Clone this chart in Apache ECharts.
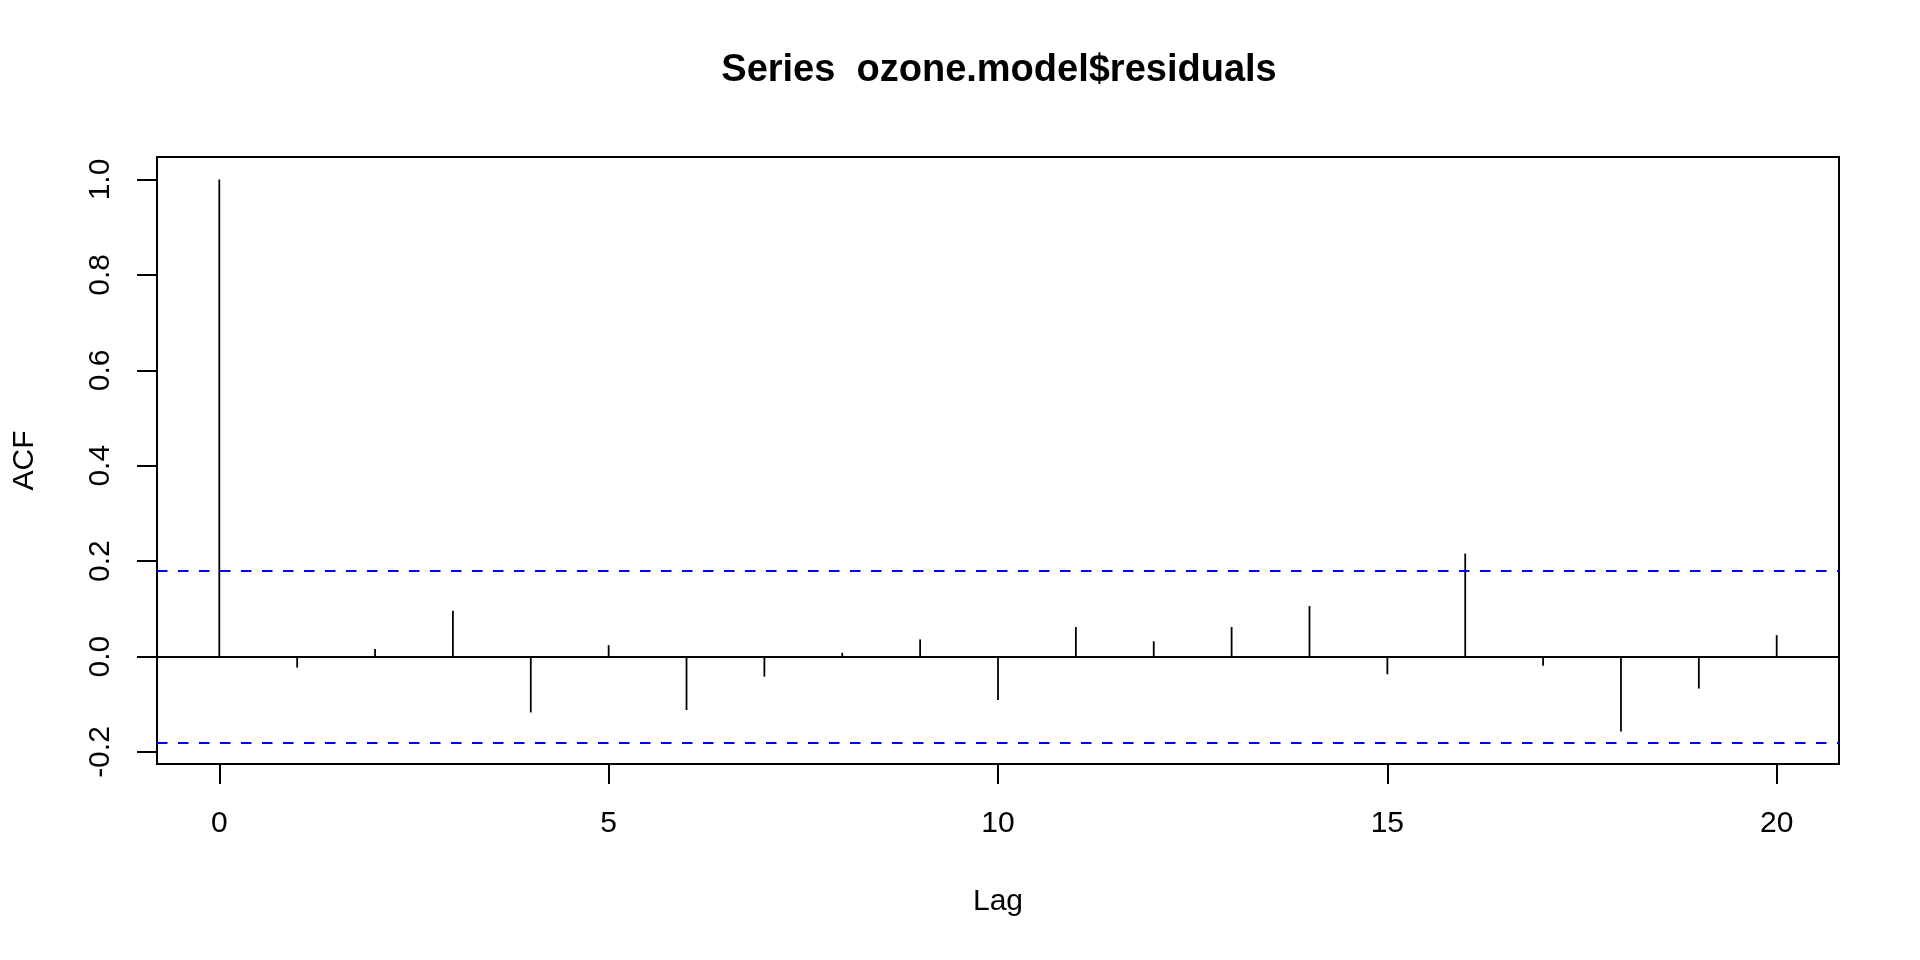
<!DOCTYPE html>
<html>
<head>
<meta charset="utf-8">
<script src="https://cdn.jsdelivr.net/npm/echarts@6/dist/echarts.min.js"></script>
<style>
  html, body { margin: 0; padding: 0; background: #ffffff; }
  #chart { width: 1920px; height: 960px; }
</style>
</head>
<body>
<div id="chart"></div>
<script>
// ---- data ----
const lags = [0, 1, 2, 3, 4, 5, 6, 7, 8, 9, 10, 11, 12, 13, 14, 15, 16, 17, 18, 19, 20];
const acfValues = [1.000, -0.023, 0.016, 0.096, -0.117, 0.024, -0.112, -0.042, 0.008, 0.036,
                   -0.091, 0.062, 0.032, 0.062, 0.106, -0.037, 0.216, -0.019, -0.157, -0.067, 0.045];
const confLimit = 0.178;
const xTicks = [0, 5, 10, 15, 20];
const yTicks = [-0.2, 0.0, 0.2, 0.4, 0.6, 0.8, 1.0];
const xLimits = [-0.8, 20.8];
const yLimits = [-0.2251, 1.0471];
const titleText = 'Series  ozone.model$residuals';
const xName = 'Lag';
const yName = 'ACF';

const FONT = '"Liberation Sans", Arial, Helvetica, sans-serif';

const chart = echarts.init(document.getElementById('chart'), null, { renderer: 'canvas' });

const spikeData = lags.map((l, i) => [l, acfValues[i]]);

const option = {
  backgroundColor: '#ffffff',
  animation: false,
  title: {
    text: titleText,
    left: 994,
    top: 47,
    textAlign: 'center',
    textStyle: { fontFamily: FONT, fontSize: 38, fontWeight: 'bold', color: '#000' }
  },
  grid: {
    left: 157, right: 81, top: 157, bottom: 196,
    show: true, borderColor: '#000', borderWidth: 2, backgroundColor: 'transparent',
    containLabel: false
  },
  xAxis: {
    type: 'value',
    min: xLimits[0], max: xLimits[1],
    name: xName,
    nameLocation: 'middle',
    nameGap: 123,
    nameTextStyle: { fontFamily: FONT, fontSize: 30, color: '#000' },
    axisLine: { show: false, onZero: false },
    splitLine: { show: false },
    axisTick: { show: true, inside: false, length: 20, customValues: xTicks,
                lineStyle: { color: '#000', width: 2 } },
    axisLabel: { show: true, customValues: xTicks, margin: 45,
                 fontFamily: FONT, fontSize: 30, color: '#000',
                 formatter: v => String(v) }
  },
  yAxis: {
    type: 'value',
    min: yLimits[0], max: yLimits[1],
    name: yName,
    nameLocation: 'middle',
    nameRotate: 90,
    nameGap: 117,
    nameTextStyle: { fontFamily: FONT, fontSize: 30, color: '#000' },
    axisLine: { show: false, onZero: false },
    splitLine: { show: false },
    axisTick: { show: true, inside: false, length: 20, customValues: yTicks,
                lineStyle: { color: '#000', width: 2 } },
    axisLabel: { show: true, customValues: yTicks, rotate: 90, margin: 41,
                 fontFamily: FONT, fontSize: 30, color: '#000',
                 formatter: v => Number(v).toFixed(1) }
  },
  series: [
    {
      type: 'custom',
      name: 'ACF',
      data: spikeData,
      clip: true,
      renderItem: function (params, api) {
        const x = api.value(0);
        const y = api.value(1);
        const p0 = api.coord([x, 0]);
        const p1 = api.coord([x, y]);
        return {
          type: 'line',
          shape: { x1: p0[0], y1: p0[1], x2: p1[0], y2: p1[1] },
          style: { stroke: '#000', lineWidth: 1.8 }
        };
      },
      markLine: {
        silent: true,
        symbol: ['none', 'none'],
        label: { show: false },
        animation: false,
        data: [
          { yAxis: 0, lineStyle: { color: '#000', width: 2, type: 'solid' } },
          { yAxis: confLimit, lineStyle: { color: '#0000ff', width: 2, type: [10.5, 10.5] } },
          { yAxis: -confLimit, lineStyle: { color: '#0000ff', width: 2, type: [10.5, 10.5] } }
        ]
      }
    }
  ]
};

chart.setOption(option);
</script>
</body>
</html>
